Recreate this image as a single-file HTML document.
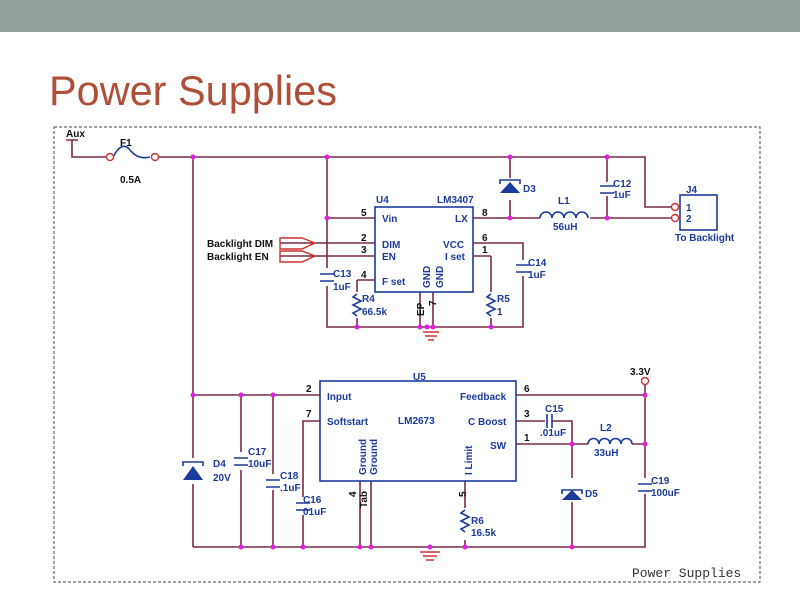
<!DOCTYPE html>
<html><head><meta charset="utf-8"><style>
body{margin:0;width:800px;height:600px;background:#fff;overflow:hidden;font-family:"Liberation Sans",sans-serif}
</style></head><body>
<svg width="800" height="600" viewBox="0 0 800 600" xmlns="http://www.w3.org/2000/svg" font-family="Liberation Sans, sans-serif">
<rect x="0" y="0" width="800" height="32" fill="#92a19b"/>
<text x="49" y="105" font-size="41.5" fill="#b04f38" textLength="288" lengthAdjust="spacingAndGlyphs">Power Supplies</text>
<rect x="54" y="127" width="706" height="455" fill="none" stroke="#444" stroke-width="1" stroke-dasharray="3,2"/>
<g fill="none" stroke="#7a2a48" stroke-width="1.6">
<path d="M66 140H78M72 140V157H108"/>
<path d="M157 157H645V207H671"/>
<path d="M193 157V547"/>
<path d="M327 157V327H523V243H473"/>
<path d="M327 218H375"/>
<path d="M357 280H375M357 280V327"/>
<path d="M420 292V327M433 292V327"/>
<path d="M491 256H473M491 256V327"/>
<path d="M473 218H540M590 218H671"/>
<path d="M510 157V218M607 157V218"/>
<path d="M280 243H375M280 256H375"/>
<path d="M193 395H320M516 395H645V547H193"/>
<path d="M241 395V547M273 395V547"/>
<path d="M320 421H303V547"/>
<path d="M516 421H545M552 421H572V547"/>
<path d="M516 444H588M632 444H645"/>
<path d="M360 481V547M371 481V547"/>
<path d="M465 481V547"/>
<path d="M645 384V395"/>
</g>
<g stroke="#fff" stroke-width="4">
<path d="M327 268V286M357 292V318M491 292V318M523 260V276M607 182V196M241 452V470M273 474V490M303 497V515M645 478V494M465 508V540M193 458V484M572 478V502M510 178V200"/>
</g>
<g fill="none" stroke="#1c3a9c" stroke-width="1.6">
<rect x="375" y="207" width="98" height="85"/>
<rect x="320" y="381" width="196" height="100"/>
<rect x="680" y="195" width="37" height="35"/>
<path d="M113 157Q122 140 130 150T150 157"/>
<path d="M320 274H334M320 281H334M516 265H530M516 272H530M600 186H614M600 193H614M234 458H248M234 465H248M266 480H280M266 487H280M296 503H310M296 510H310M638 484H652M638 491H652M547 414V428M552 414V428"/>
<path d="M357 294l-4 3 8 4-8 4 8 4-8 4 4 3M491 294l-4 3 8 4-8 4 8 4-8 4 4 3M465 510l-4 3 8 4-8 4 8 4-8 4 4 3"/>
<path d="M540 218a6 6 0 0 1 12 0a6 6 0 0 1 12 0a6 6 0 0 1 12 0a6 6 0 0 1 12 0"/>
<path d="M588 444a5.5 5.5 0 0 1 11 0a5.5 5.5 0 0 1 11 0a5.5 5.5 0 0 1 11 0a5.5 5.5 0 0 1 11 0"/>
<path d="M500 184V180H520V184M183 466V462H203V466M562 494V490H582V494"/>
</g>
<g fill="#1c3a9c">
<path d="M500 193H520L510 182Z"/>
<path d="M183 480H203L193 466Z"/>
<path d="M562 500H582L572 490Z"/>
</g>
<g fill="none" stroke="#d03030" stroke-width="1.4">
<path d="M280 238H302L315 243 302 249H280ZM280 251H302L315 256 302 262H280Z"/>
<circle cx="110" cy="157" r="3.5" fill="#fff"/><circle cx="155" cy="157" r="3.5" fill="#fff"/>
<circle cx="675" cy="207" r="3.5" fill="#fff"/><circle cx="675" cy="218" r="3.5" fill="#fff"/>
<circle cx="645" cy="381" r="3.5" fill="#fff"/>
<path d="M423 332H439M425 336H437M428 340H434M420 552H440M423 556H437M426 560H434"/>
</g>
<g fill="#e020e0">
<circle cx="193" cy="157" r="2.5"/><circle cx="327" cy="157" r="2.5"/><circle cx="510" cy="157" r="2.5"/><circle cx="607" cy="157" r="2.5"/>
<circle cx="327" cy="218" r="2.5"/><circle cx="510" cy="218" r="2.5"/><circle cx="607" cy="218" r="2.5"/>
<circle cx="357" cy="327" r="2.5"/><circle cx="420" cy="327" r="2.5"/><circle cx="427" cy="327" r="2.5"/><circle cx="433" cy="327" r="2.5"/><circle cx="491" cy="327" r="2.5"/>
<circle cx="193" cy="395" r="2.5"/><circle cx="241" cy="395" r="2.5"/><circle cx="273" cy="395" r="2.5"/><circle cx="645" cy="395" r="2.5"/>
<circle cx="572" cy="444" r="2.5"/><circle cx="645" cy="444" r="2.5"/>
<circle cx="241" cy="547" r="2.5"/><circle cx="273" cy="547" r="2.5"/><circle cx="303" cy="547" r="2.5"/><circle cx="360" cy="547" r="2.5"/><circle cx="371" cy="547" r="2.5"/><circle cx="430" cy="547" r="2.5"/><circle cx="465" cy="547" r="2.5"/><circle cx="572" cy="547" r="2.5"/>
</g>
<g font-size="10" fill="#1c3a9c" font-weight="bold">
<text x="376" y="203">U4</text><text x="437" y="203">LM3407</text>
<text x="382" y="222">Vin</text><text x="382" y="248">DIM</text><text x="382" y="260">EN</text><text x="382" y="285">F set</text>
<text x="455" y="222">LX</text><text x="443" y="248">VCC</text><text x="445" y="260">I set</text>
<text transform="translate(430,288) rotate(-90)">GND</text><text transform="translate(443,288) rotate(-90)">GND</text>
<text x="333" y="277">C13</text><text x="333" y="290">1uF</text>
<text x="362" y="302">R4</text><text x="362" y="315">66.5k</text>
<text x="497" y="302">R5</text><text x="497" y="315">1</text>
<text x="528" y="266">C14</text><text x="528" y="278">1uF</text>
<text x="523" y="192">D3</text><text x="558" y="204">L1</text><text x="553" y="230">56uH</text>
<text x="613" y="187">C12</text><text x="613" y="198">1uF</text>
<text x="686" y="193">J4</text><text x="686" y="211">1</text><text x="686" y="222">2</text>
<text x="675" y="241">To Backlight</text>
<text x="413" y="380">U5</text>
<text x="327" y="400">Input</text><text x="327" y="425">Softstart</text><text x="398" y="424">LM2673</text>
<text x="460" y="400">Feedback</text><text x="468" y="425">C Boost</text><text x="490" y="449">SW</text>
<text transform="translate(366,475) rotate(-90)">Ground</text><text transform="translate(377,475) rotate(-90)">Ground</text>
<text transform="translate(472,475) rotate(-90)">I Limit</text>
<text x="213" y="467">D4</text><text x="213" y="481">20V</text>
<text x="248" y="455">C17</text><text x="248" y="467">10uF</text>
<text x="280" y="479">C18</text><text x="280" y="491">.1uF</text>
<text x="303" y="503">C16</text><text x="303" y="515">01uF</text>
<text x="545" y="412">C15</text><text x="540" y="436">.01uF</text>
<text x="600" y="431">L2</text><text x="594" y="456">33uH</text>
<text x="585" y="497">D5</text>
<text x="651" y="484">C19</text><text x="651" y="496">100uF</text>
<text x="471" y="524">R6</text><text x="471" y="536">16.5k</text>
</g>
<g font-size="10" fill="#111" font-weight="bold">
<text x="66" y="137">Aux</text><text x="120" y="146">F1</text><text x="120" y="183">0.5A</text>
<text x="207" y="247">Backlight DIM</text><text x="207" y="260">Backlight EN</text>
<text x="361" y="216">5</text><text x="361" y="241">2</text><text x="361" y="253">3</text><text x="361" y="278">4</text>
<text x="482" y="216">8</text><text x="482" y="241">6</text><text x="482" y="253">1</text>
<text transform="translate(424,316) rotate(-90)">EP</text><text transform="translate(436,306) rotate(-90)">7</text>
<text x="306" y="392">2</text><text x="306" y="417">7</text>
<text x="524" y="392">6</text><text x="524" y="417">3</text><text x="524" y="441">1</text>
<text x="630" y="375">3.3V</text>
<text transform="translate(356,497) rotate(-90)">4</text><text transform="translate(367,508) rotate(-90)">Tab</text>
<text transform="translate(466,497) rotate(-90)">5</text>
</g>
<text x="632" y="577" font-family="Liberation Mono, monospace" font-size="13" fill="#333">Power Supplies</text>
</svg>
</body></html>
